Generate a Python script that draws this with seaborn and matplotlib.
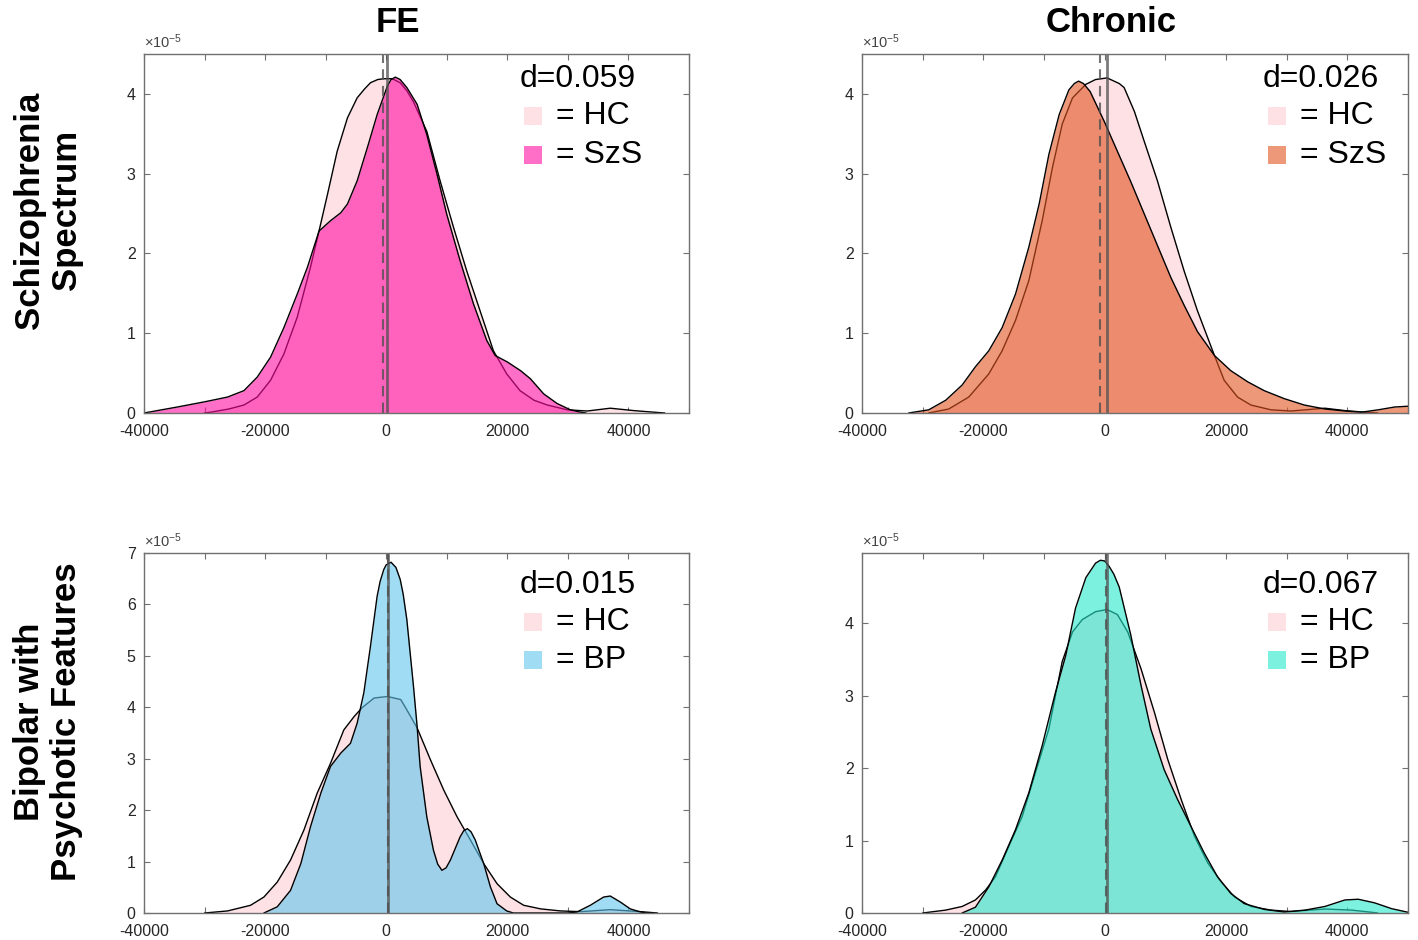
import numpy as np
import matplotlib
matplotlib.use("Agg")
import matplotlib.pyplot as plt
import seaborn as sns
from matplotlib.patches import Rectangle
from matplotlib.ticker import FuncFormatter

# ---------------- data (density in units of 1e-5) ----------------
# Panel 1: FE, Schizophrenia spectrum
hc_fe_szs_x = [-30000, -29000, -26000, -23500, -21300, -19100, -16900, -14700, -12500, -11100,
               -9700, -8100, -6400, -4800, -3600, -2600, -1400, -400, 1000, 2300, 3400, 4500,
               6700, 8900, 11100, 13300, 15500, 17700, 19900, 22100, 24400, 26600, 29900,
               33200, 37000, 40900, 44200, 46000]
hc_fe_szs_y = [0, 0.01, 0.05, 0.10, 0.20, 0.41, 0.74, 1.20, 1.83, 2.28,
               2.74, 3.28, 3.70, 3.95, 4.06, 4.14, 4.18, 4.19, 4.19, 4.14, 4.04, 3.90,
               3.53, 2.91, 2.33, 1.78, 1.28, 0.78, 0.49, 0.28, 0.16, 0.10, 0.04,
               0.025, 0.06, 0.03, 0.01, 0]
szs_fe_x = [-40000, -34500, -30000, -26200, -23500, -21300, -19100, -16900, -14700, -13000,
            -11100, -9200, -7500, -6400, -4800, -3100, -1500, 200, 800, 1500, 2300, 3400,
            5100, 6700, 8400, 10000, 12200, 14400, 16600, 18000, 20000, 22200, 23800,
            26000, 28200, 30400, 32100, 33000]
szs_fe_y = [0, 0.075, 0.14, 0.20, 0.28, 0.45, 0.70, 1.07, 1.49, 1.83,
            2.28, 2.41, 2.51, 2.62, 2.91, 3.33, 3.74, 4.10, 4.18, 4.21, 4.18, 4.08,
            3.87, 3.49, 2.99, 2.49, 1.91, 1.37, 0.91, 0.72, 0.64, 0.53, 0.43,
            0.24, 0.12, 0.04, 0.01, 0]

# Panel 2: Chronic, Schizophrenia spectrum
hc_ch_szs_x = [-29000, -25700, -22400, -19100, -16900, -14700, -12500, -10300, -8600, -7000,
               -5300, -3100, -1500, 400, 2400, 3200, 4900, 6500, 8700, 10900, 13100, 15300,
               18100, 19700, 21900, 24100, 27400, 30700, 36300, 39600, 42900, 45000]
hc_ch_szs_y = [0, 0.05, 0.20, 0.49, 0.78, 1.16, 1.66, 2.41, 3.08, 3.62,
               3.95, 4.12, 4.18, 4.20, 4.13, 4.08, 3.78, 3.41, 2.91, 2.33, 1.78, 1.28,
               0.72, 0.41, 0.20, 0.10, 0.04, 0.025, 0.06, 0.03, 0.01, 0]
szs_ch_x = [-32300, -29000, -26200, -23500, -21300, -19100, -16900, -14700, -12500, -10800,
            -9200, -7500, -5900, -5000, -4300, -3500, -2400, -100, 2100, 4300, 6500, 8700,
            10900, 13100, 15300, 18100, 20800, 23600, 26300, 29600, 32900, 36300, 39600,
            42300, 45100, 47800, 50000]
szs_ch_y = [0, 0.04, 0.16, 0.35, 0.58, 0.78, 1.07, 1.49, 2.08, 2.62,
            3.24, 3.74, 4.05, 4.13, 4.16, 4.13, 4.03, 3.66, 3.28, 2.90, 2.50, 2.10,
            1.70, 1.35, 1.02, 0.72, 0.53, 0.39, 0.28, 0.18, 0.10, 0.05, 0.025,
            0.01, 0.04, 0.075, 0.085]

# Panel 3: FE, Bipolar with psychotic features
hc_fe_bp_x = [-30000, -26200, -22400, -20200, -18000, -15800, -13600, -11400, -9200, -7000,
              -5300, -4000, -2000, 200, 2400, 3400, 5100, 7300, 9500, 11700, 13900, 16100,
              18300, 20500, 22700, 25500, 28800, 32100, 37000, 42000, 44800]
hc_fe_bp_y = [0, 0.04, 0.15, 0.31, 0.60, 1.03, 1.61, 2.33, 2.91, 3.56,
              3.82, 3.99, 4.18, 4.21, 4.15, 3.95, 3.60, 2.98, 2.39, 1.87, 1.42, 0.96,
              0.57, 0.31, 0.15, 0.08, 0.04, 0.026, 0.065, 0.026, 0]
bp_fe_x = [-20200, -18000, -15800, -14100, -12500, -10800, -9200, -7500, -5900, -4800,
           -3700, -2600, -1500, -1000, -400, 0, 800, 1600, 2300, 2800, 3400, 4500, 5100,
           5600, 6700, 7800, 8500, 9200, 9900, 10600, 12200, 12800, 13400, 14000, 14700,
           16100, 17200, 18300, 19900, 21000, 30000, 31500, 33700, 35900, 37000, 38700,
           40300, 42000, 43100]
bp_fe_y = [0, 0.12, 0.44, 0.96, 1.68, 2.33, 2.85, 3.11, 3.30, 3.69,
           4.28, 5.19, 6.16, 6.45, 6.68, 6.77, 6.82, 6.72, 6.49, 6.20, 5.71, 4.41, 3.63,
           2.85, 1.87, 1.22, 0.95, 0.83, 0.88, 1.03, 1.48, 1.60, 1.64, 1.58, 1.42,
           0.96, 0.51, 0.18, 0.04, 0, 0, 0.02, 0.15, 0.31, 0.33, 0.21,
           0.08, 0.02, 0]

# Panel 4: Chronic, Bipolar with psychotic features
hc_ch_bp_x = [-30000, -26200, -23500, -21300, -19600, -18000, -15800, -13600, -11400, -9200,
              -7000, -5300, -3700, -1500, 400, 2100, 3800, 6000, 8200, 10400, 12600, 14800,
              17000, 19200, 21400, 24100, 27400, 30700, 36300, 40700, 44000, 45000]
hc_ch_bp_y = [0, 0.04, 0.09, 0.18, 0.32, 0.50, 0.92, 1.33, 1.94, 2.54,
              3.47, 3.88, 4.05, 4.16, 4.19, 4.12, 3.88, 3.37, 2.77, 2.12, 1.57, 1.06,
              0.69, 0.43, 0.22, 0.09, 0.04, 0.02, 0.055, 0.04, 0.01, 0]
bp_ch_x = [-23500, -21300, -19100, -16900, -14700, -12500, -10300, -8100, -6400, -4800,
           -3100, -1500, -700, 0, 700, 1500, 2400, 4300, 6000, 7600, 9800, 12000, 14200,
           16400, 18600, 20800, 23000, 26300, 29600, 33000, 36300, 39600, 41800, 44500,
           47300, 50000]
bp_ch_y = [0, 0.08, 0.36, 0.73, 1.15, 1.66, 2.31, 3.05, 3.56, 4.21,
           4.63, 4.83, 4.87, 4.86, 4.79, 4.68, 4.50, 3.84, 3.14, 2.54, 1.98, 1.57, 1.20,
           0.83, 0.50, 0.27, 0.13, 0.05, 0.014, 0.04, 0.09, 0.18, 0.19, 0.14,
           0.06, 0.01]

# group means (vertical lines): HC solid, patient dashed
hc_means = [160, 330, 220, 330]
pt_means = [-490, -770, 220, 300]
d_values = ["d=0.059", "d=0.026", "d=0.015", "d=0.067"]
pt_labels = ["SzS", "SzS", "BP", "BP"]
col_titles = ["FE", "Chronic"]
row_titles = ["Schizophrenia\nSpectrum", "Bipolar with\nPsychotic Features"]
x_ticks = [-40000, -30000, -20000, -10000, 0, 10000, 20000, 30000, 40000, 50000]

# ---------------- style ----------------
sns.set_theme(style="white")
plt.rcParams["font.family"] = ["Liberation Sans", "DejaVu Sans"]
plt.rcParams["axes.unicode_minus"] = False
plt.rcParams["mathtext.default"] = "regular"
plt.rcParams["text.color"] = "black"

HC_COLOR = "#FDE1E4"
PT_COLORS = ["#FF0DA2", "#E35321", "#61C6ED", "#26E9CB"]
PT_ALPHA = 0.6
SPINE = "#707070"
TICKC = "#262626"

W, H = 1418, 940
fig = plt.figure(figsize=(W / 100, H / 100), dpi=100)

def px_axes(l, t, r, b):
    return fig.add_axes([l / W, 1 - b / H, (r - l) / W, (b - t) / H])

axes = [px_axes(144, 54, 689, 413), px_axes(862, 54, 1408, 413),
        px_axes(144, 553, 689, 913), px_axes(862, 553, 1408, 913)]

curves = [(hc_fe_szs_x, hc_fe_szs_y, szs_fe_x, szs_fe_y),
          (hc_ch_szs_x, hc_ch_szs_y, szs_ch_x, szs_ch_y),
          (hc_fe_bp_x, hc_fe_bp_y, bp_fe_x, bp_fe_y),
          (hc_ch_bp_x, hc_ch_bp_y, bp_ch_x, bp_ch_y)]
ylims = [4.5, 4.5, 7.0, 4.97]
yticks = [[0, 1, 2, 3, 4], [0, 1, 2, 3, 4], list(range(8)), [0, 1, 2, 3, 4]]
leg_x = [0.690, 0.734, 0.690, 0.734]
leg_sw = [0.697, 0.744, 0.697, 0.744]
leg_tx = [0.756, 0.802, 0.756, 0.802]
leg_y = [(0.930, 0.827, 0.719), (0.930, 0.827, 0.719),
         (0.911, 0.808, 0.703), (0.911, 0.808, 0.703)]

for i, ax in enumerate(axes):
    hx, hy, px, py = curves[i]
    hx, hy, px, py = map(np.asarray, (hx, hy, px, py))
    ax.fill_between(hx, 0, hy, color=HC_COLOR, lw=0, zorder=1)
    sns.lineplot(x=hx, y=hy, ax=ax, color="black", lw=1.0, zorder=2,
                 estimator=None, sort=False)
    ax.fill_between(px, 0, py, color=PT_COLORS[i], alpha=PT_ALPHA, lw=0, zorder=3)
    sns.lineplot(x=px, y=py, ax=ax, color="black", lw=1.0, zorder=4,
                 estimator=None, sort=False)
    ax.axvline(hc_means[i], color="#505050", lw=2.0, alpha=0.75, zorder=5)
    ax.axvline(pt_means[i], color="#505050", lw=1.5, alpha=0.8,
               ls=(0, (5, 3)), zorder=6)

    ax.set_xlim(-40000, 50000)
    ax.set_ylim(0, ylims[i])
    ax.set_xticks(x_ticks)
    ax.xaxis.set_major_formatter(FuncFormatter(
        lambda v, p: f"{int(v)}" if int(v) % 20000 == 0 and v < 50000 else ""))
    ax.set_yticks(yticks[i])
    ax.set_yticklabels([str(t) for t in yticks[i]])
    ax.set_xlabel("")
    ax.set_ylabel("")
    ax.tick_params(direction="in", length=4, width=0.8, color=SPINE,
                   top=True, right=True, bottom=True, left=True,
                   labelsize=11.5, labelcolor=TICKC)
    ax.tick_params(axis="x", pad=8)
    ax.tick_params(axis="y", pad=6)
    for s in ax.spines.values():
        s.set_visible(True)
        s.set_color(SPINE)
        s.set_linewidth(1.0)
        s.set_zorder(10)
    ax.set_facecolor("white")
    ax.text(0.0, 1.008, r"$\times 10^{-5}$", transform=ax.transAxes,
            ha="left", va="bottom", fontsize=10.5, color="#444444")

    # legend-like annotation
    ya, yb, yc = leg_y[i]
    ax.text(leg_x[i], ya, d_values[i], transform=ax.transAxes, ha="left",
            va="center", fontsize=23, color="black", zorder=12)
    sw_w, sw_h = 18 / 545, 18 / 359
    ax.add_patch(Rectangle((leg_sw[i], yb - sw_h / 2), sw_w, sw_h,
                           transform=ax.transAxes, facecolor=HC_COLOR,
                           edgecolor="none", zorder=12))
    ax.add_patch(Rectangle((leg_sw[i], yc - sw_h / 2), sw_w, sw_h,
                           transform=ax.transAxes, facecolor=PT_COLORS[i],
                           alpha=PT_ALPHA, edgecolor="none", zorder=12))
    ax.text(leg_tx[i], yb, "= HC", transform=ax.transAxes, ha="left",
            va="center", fontsize=23, color="black", zorder=12)
    ax.text(leg_tx[i], yc, "= " + pt_labels[i], transform=ax.transAxes,
            ha="left", va="center", fontsize=23, color="black", zorder=12)

fig.text(398 / W, 1 - 23 / H, col_titles[0], ha="center", va="center",
         fontsize=25, fontweight="bold", color="black")
fig.text(1111 / W, 1 - 23 / H, col_titles[1], ha="center", va="center",
         fontsize=25, fontweight="bold", color="black")
fig.text(48 / W, 1 - 210 / H, row_titles[0], rotation=90, ha="center",
         va="center", fontsize=25, fontweight="bold", multialignment="center",
         linespacing=1.15, color="black")
fig.text(48 / W, 1 - 722 / H, row_titles[1], rotation=90, ha="center",
         va="center", fontsize=25, fontweight="bold", multialignment="center",
         linespacing=1.15, color="black")

fig.savefig("out.png", dpi=100, facecolor="white")
